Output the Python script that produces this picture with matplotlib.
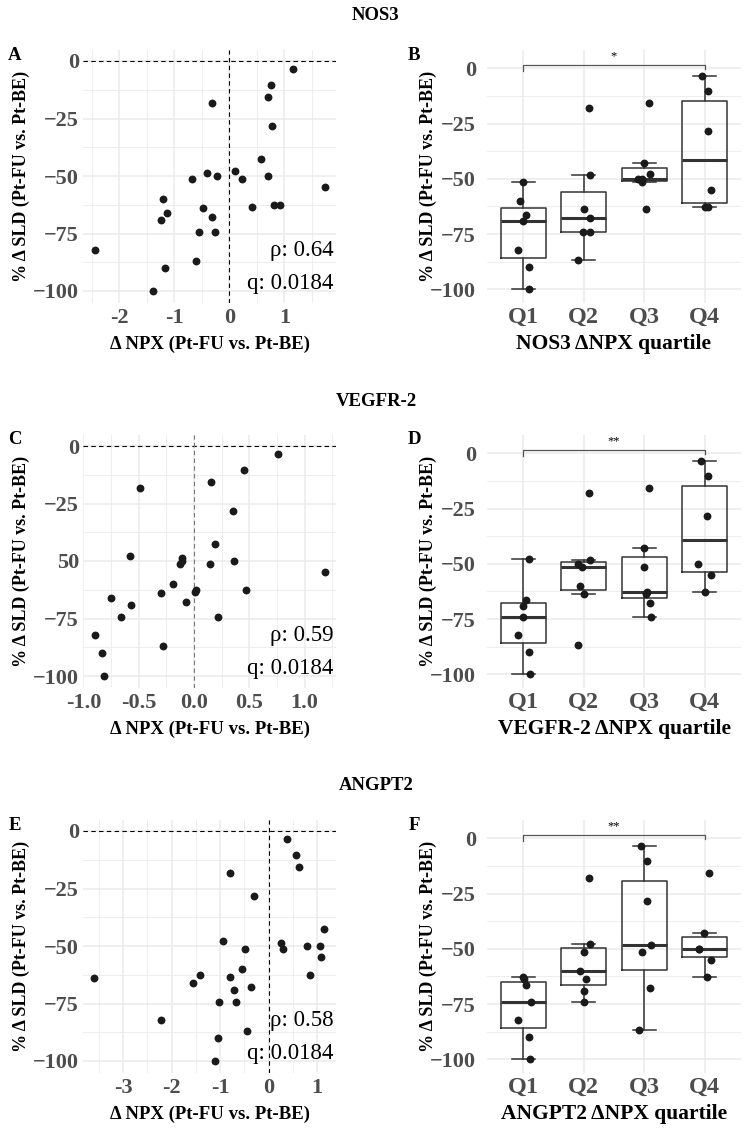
import numpy as np
import matplotlib.pyplot as plt
from matplotlib.ticker import MultipleLocator

plt.rcParams['font.family'] = ['Liberation Serif', 'DejaVu Serif']

W, H = 752, 1129

# % change in sum of longest diameters, one value per patient (P1..P27)
sld = [-3.3, -10.3, -15.7, -18.1, -28.4, -42.8, -47.8, -48.5, -50.2, -50.2,
       -51.4, -51.5, -54.9, -60.2, -62.7, -62.7, -63.6, -63.9, -66.3, -67.8,
       -69.1, -74.3, -74.3, -82.1, -86.8, -89.8, -100.0]

# delta NPX per patient for each protein (same patient order)
npx_nos3 = [1.15, 0.76, 0.70, -0.32, 0.78, 0.58, 0.11, -0.41, -0.23, 0.70,
            -0.67, 0.23, 1.73, -1.20, 0.81, 0.93, 0.42, -0.48, -1.14, -0.31,
            -1.24, -0.55, -0.26, -2.45, -0.61, -1.16, -1.38]
npx_vegfr2 = [0.76, 0.45, 0.15, -0.49, 0.35, 0.19, -0.58, -0.11, -0.11, 0.36,
              -0.13, 0.14, 1.18, -0.19, 0.02, 0.47, 0.01, -0.30, -0.75, -0.07,
              -0.57, -0.66, 0.22, -0.90, -0.28, -0.83, -0.81]
npx_angpt2 = [0.38, 0.57, 0.63, -0.80, -0.30, 1.15, -0.94, 0.25, 0.78, 1.05,
              -0.49, 0.30, 1.07, -0.56, -1.41, 0.85, -0.80, -3.59, -1.57, -0.36,
              -0.71, -1.02, -0.67, -2.21, -0.45, -1.04, -1.11]

# horizontal jitter of the points in the quartile boxplots
jit_nos3 = [-0.05, 0.05, 0.08, 0.09, 0.05, -0.01, 0.10, 0.11, -0.10, -0.03,
            0.0, -0.04, 0.10, -0.05, 0.0, 0.05, 0.03, 0.01, 0.04, 0.10,
            0.0, -0.02, 0.11, -0.09, -0.09, 0.10, 0.10]
jit_vegfr2 = [-0.06, 0.05, 0.08, 0.09, 0.04, -0.01, 0.10, 0.11, -0.09, -0.11,
              -0.03, 0.0, 0.10, -0.07, 0.05, 0.0, 0.03, 0.0, 0.04, 0.10,
              0.0, 0.0, 0.12, -0.09, -0.09, 0.10, 0.11]
jit_angpt2 = [-0.05, 0.05, 0.07, 0.09, 0.05, -0.01, 0.10, 0.11, -0.10, -0.09,
              0.0, -0.03, 0.10, -0.07, 0.0, 0.04, 0.03, 0.01, 0.04, 0.10,
              0.0, 0.12, 0.0, -0.09, -0.08, 0.10, 0.11]

proteins = ['NOS3', 'VEGFR-2', 'ANGPT2']
npx = [npx_nos3, npx_vegfr2, npx_angpt2]
jits = [jit_nos3, jit_vegfr2, jit_angpt2]
letters = [('A', 'B'), ('C', 'D'), ('E', 'F')]
rho = ['0.64', '0.59', '0.58']
qval = ['0.0184', '0.0184', '0.0184']
stars = ['*', '**', '**']

xticks = [[-2, -1, 0, 1], [-1.0, -0.5, 0.0, 0.5, 1.0], [-3, -2, -1, 0, 1]]
xticklabels = [['-2', '-1', '0', '1'],
               ['-1.0', '-0.5', '0.0', '0.5', '1.0'],
               ['-3', '-2', '-1', '0', '1']]
xminor = [0.5, 0.25, 0.5]
yticks = [0, -25, -50, -75, -100]
yticklabels = [['0', '\u221225', '\u221250', '\u221275', '\u2212100'],
               ['0', '\u221225', '50', '\u221275', '\u2212100'],
               ['0', '\u221225', '\u221250', '\u221275', '\u2212100']]
box_yticklabels = ['0', '\u221225', '\u221250', '\u221275', '\u2212100']
quartiles = ['Q1', 'Q2', 'Q3', 'Q4']

ylab = '% \u0394 SLD (Pt-FU vs. Pt-BE)'
xlab = '\u0394 NPX (Pt-FU vs. Pt-BE)'

TICK_GREY = '#4D4D4D'
GRID = '#EBEBEB'
DOT = '#1A1A1A'
BOXC = '#333333'


def rect(l, t, r, b):
    return [l / W, 1 - b / H, (r - l) / W, (b - t) / H]


def ntile(x, k=4):
    x = np.asarray(x)
    order = np.argsort(x, kind='stable')
    g = np.empty(len(x), dtype=int)
    g[order] = (k * np.arange(len(x))) // len(x)
    return g


def style(ax, tsize=16):
    for s in ax.spines.values():
        s.set_visible(False)
    ax.set_axisbelow(True)
    ax.grid(which='major', color=GRID, lw=1.1)
    ax.grid(which='minor', color=GRID, lw=0.6)
    ax.tick_params(which='both', length=0)
    ax.tick_params(labelcolor=TICK_GREY, labelsize=tsize)
    for t in ax.get_xticklabels() + ax.get_yticklabels():
        t.set_fontweight('bold')


fig = plt.figure(figsize=(W / 100, H / 100), dpi=100)

for k in range(3):
    off = 385 * k
    y = np.array(sld)
    x = np.array(npx[k])

    fig.text(0.5, 1 - (16 + off) / H, proteins[k], ha='center', va='center',
             fontsize=13.5, fontweight='bold')

    # scatter panel
    ax = fig.add_axes(rect(83, 49.5 + off, 336, 302.5 + off))
    ax.axhline(0, color='black', lw=0.8, ls=(0, (4, 3)), zorder=2)
    ax.axvline(0, color='#777777' if k == 1 else 'black', lw=0.8,
               ls=(0, (4, 3)), zorder=2)
    ax.scatter(x, y, s=32, color=DOT, linewidths=0, zorder=3)
    ax.margins(x=0.05)
    ax.set_ylim(-105, 5)
    ax.set_xticks(xticks[k], xticklabels[k])
    ax.set_yticks(yticks, yticklabels[k])
    ax.xaxis.set_minor_locator(MultipleLocator(xminor[k]))
    ax.yaxis.set_minor_locator(MultipleLocator(12.5))
    style(ax)
    ax.tick_params(axis='x', pad=4)
    ax.tick_params(axis='y', pad=3)
    ax.text(0.99, 0.205, f'\u03c1: {rho[k]}', transform=ax.transAxes,
            ha='right', va='center', fontsize=16.5)
    ax.text(0.99, 0.075, f'q: {qval[k]}', transform=ax.transAxes,
            ha='right', va='center', fontsize=16.5)
    ax.text(-0.245, 0.5, ylab, transform=ax.transAxes, rotation=90,
            ha='center', va='center', fontsize=13, fontweight='bold')
    ax.text(0.5, -0.165, xlab, transform=ax.transAxes, ha='center',
            va='center', fontsize=13.5, fontweight='bold')
    fig.text(15 / W, 1 - (55 + off) / H, letters[k][0], ha='center',
             va='center', fontsize=13.5, fontweight='bold')

    # quartile boxplot panel
    q = ntile(x)
    groups = [y[q == i] for i in range(4)]
    bx = fig.add_axes(rect(487, 49.5 + off, 741, 302.5 + off))
    line = dict(color=BOXC, lw=1.1)
    bx.boxplot(groups, positions=range(1, 5), widths=0.75, whis=1.5,
               showfliers=False, capwidths=0.38,
               boxprops=line, whiskerprops=line, capprops=line,
               medianprops=dict(color=BOXC, lw=2.2))
    bx.scatter(q + 1 + np.array(jits[k]), y, s=32, color=DOT,
               linewidths=0, zorder=3)
    bx.plot([1, 1, 4, 4], [-1.3, 1.6, 1.6, -0.2], color='#555555', lw=0.9)
    bx.text(2.5, 5.2, stars[k], ha='center', va='center', fontsize=9)
    bx.set_xlim(0.4, 4.6)
    bx.set_ylim(-106, 8.5)
    bx.set_xticks(range(1, 5), quartiles)
    bx.set_yticks(yticks, box_yticklabels)
    bx.yaxis.set_minor_locator(MultipleLocator(12.5))
    style(bx)
    bx.tick_params(axis='x', labelsize=17.5, pad=3)
    bx.tick_params(axis='y', pad=8)
    bx.text(-0.232, 0.5, ylab, transform=bx.transAxes, rotation=90,
            ha='center', va='center', fontsize=13, fontweight='bold')
    bx.text(0.5, -0.165, f'{proteins[k]} \u0394NPX quartile',
            transform=bx.transAxes, ha='center', va='center', fontsize=15.5,
            fontweight='bold')
    fig.text(414 / W, 1 - (55 + off) / H, letters[k][1], ha='center',
             va='center', fontsize=13.5, fontweight='bold')

fig.savefig('out.png', dpi=100)
